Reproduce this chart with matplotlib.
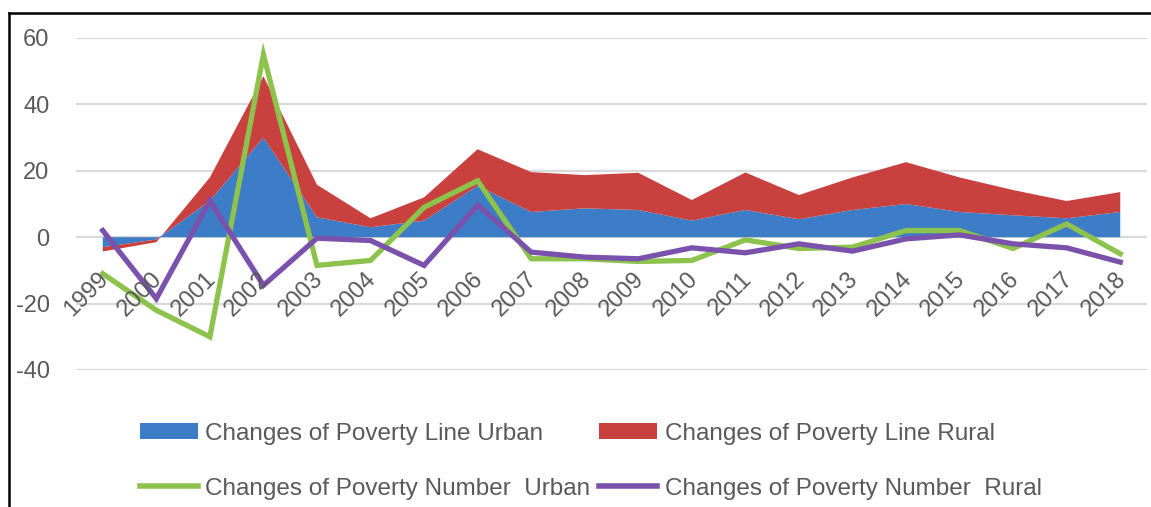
import matplotlib
matplotlib.use("Agg")
import matplotlib.pyplot as plt
from matplotlib.patches import Patch
from matplotlib.lines import Line2D

years = list(range(1999, 2019))

# Annual changes of the poverty line (stacked areas)
line_urban = [-3.0, -0.7, 11.0, 30.0, 6.0, 3.0, 5.0, 15.5, 7.6, 8.7, 8.2, 5.0, 8.2, 5.4, 8.2, 10.0, 7.6, 6.6, 5.7, 7.6]
line_rural = [-1.3, -0.8, 7.0, 18.5, 9.8, 2.7, 7.0, 11.0, 12.0, 10.0, 11.2, 6.2, 11.3, 7.3, 9.8, 12.6, 10.4, 7.6, 5.2, 6.0]

# Annual changes of the poverty number (lines)
number_urban = [-11.0, -22.0, -30.0, 55.0, -8.5, -7.0, 9.0, 17.0, -6.5, -6.5, -7.3, -7.0, -0.8, -3.4, -3.0, 2.0, 2.0, -3.4, 4.0, -5.0]
number_rural = [2.0, -18.5, 11.0, -14.5, -0.3, -1.0, -8.5, 9.7, -4.5, -6.0, -6.5, -3.2, -4.7, -2.0, -4.2, -0.5, 0.7, -2.0, -3.2, -7.5]

labels = [
    "Changes of Poverty Line Urban",
    "Changes of Poverty Line Rural",
    "Changes of Poverty Number  Urban",
    "Changes of Poverty Number  Rural",
]

blue = "#3D7CC6"
red = "#C9413F"
green = "#8DC24C"
purple = "#7A52AC"
text_gray = "#595959"
grid_gray = "#D9D9D9"

plt.rcParams["font.family"] = ["Liberation Sans", "DejaVu Sans"]
plt.rcParams["axes.unicode_minus"] = False

W, H = 1151, 507
fig = plt.figure(figsize=(W / 100, H / 100), dpi=100)
fig.patch.set_facecolor("white")

ax = fig.add_axes([76 / W, 1 - 370 / H, (1147 - 76) / W, (370 - 38) / H])
x = list(range(len(years)))

ax.stackplot(x, line_urban, line_rural, colors=[blue, red], linewidth=0, zorder=2)
ax.plot(x, number_urban, color=green, lw=3.8, solid_joinstyle="miter", zorder=3)
ax.plot(x, number_rural, color=purple, lw=3.8, solid_joinstyle="miter", zorder=4)

ax.set_xlim(-0.5, len(years) - 0.5)
ax.set_ylim(-40, 60)
ax.set_yticks([-40, -20, 0, 20, 40, 60])
ax.set_xticks([])
ax.grid(axis="y", color=grid_gray, lw=1.6, zorder=1)
ax.set_axisbelow(True)
for s in ax.spines.values():
    s.set_visible(False)
ax.tick_params(axis="y", length=0, pad=19, labelsize=17, labelcolor=text_gray)

# Rotated year labels hanging below the zero line
for i, yr in enumerate(years):
    ax.text(i + 0.05, -11.5, str(yr), rotation=45, ha="right", va="center",
            rotation_mode="anchor", fontsize=17, color=text_gray, zorder=5)

handles = [
    Patch(facecolor=blue, edgecolor="none"),
    Line2D([], [], color=green, lw=4),
    Patch(facecolor=red, edgecolor="none"),
    Line2D([], [], color=purple, lw=4),
]
leg_labels = [labels[0], labels[2], labels[1], labels[3]]
leg = fig.legend(handles, leg_labels, ncol=2, loc="upper left",
                 bbox_to_anchor=(130 / W, 1 - 413 / H),
                 frameon=False, prop={"size": 17.5},
                 handlelength=2.4, handleheight=0.65, handletextpad=0.3,
                 columnspacing=0.35, labelspacing=1.35, borderaxespad=0)
for t in leg.get_texts():
    t.set_color(text_gray)

# Outer frame on the left and top
fig.add_artist(Line2D([9 / W, 9 / W], [0, 1 - 13 / H], transform=fig.transFigure, color="black", lw=1.8))
fig.add_artist(Line2D([9 / W, 1], [1 - 13 / H, 1 - 13 / H], transform=fig.transFigure, color="black", lw=1.8))

fig.savefig("out.png", dpi=100, facecolor="white")
